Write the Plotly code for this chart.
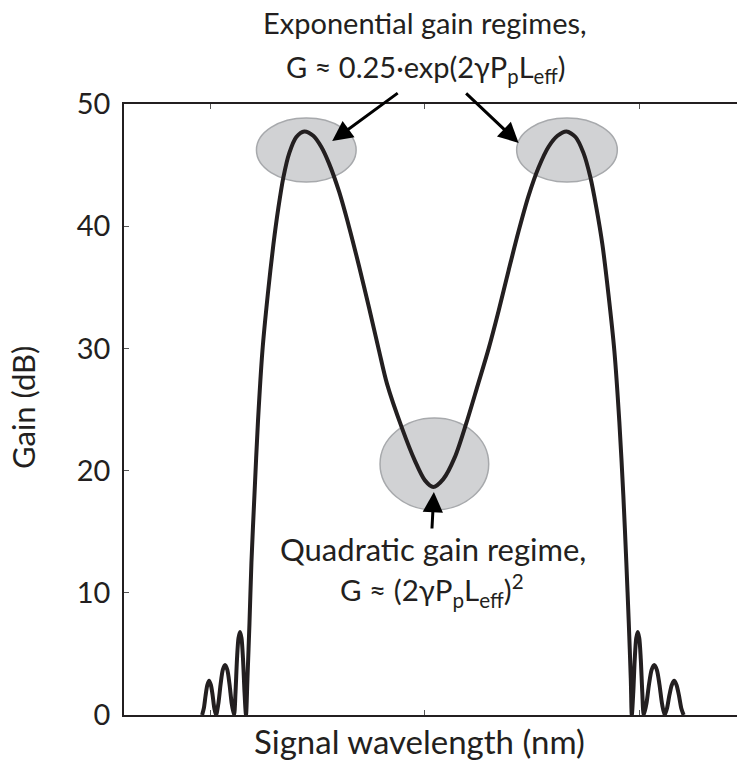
import plotly.graph_objects as go

# ---------------- data ----------------
wavelength_nm = [
    # left side lobes
    1498.02, 1498.43, 1498.84, 1499.24, 1499.65, 1500.06, 1500.47, 1500.87, 1501.28,
    1501.80, 1502.33, 1502.85, 1503.37, 1503.90, 1504.42, 1504.94, 1505.47,
    1505.82, 1506.16, 1506.51, 1506.86, 1507.21, 1507.56, 1507.91, 1508.26,
    # main gain band
    1508.60, 1509.07, 1509.53, 1510.23, 1511.05, 1512.09, 1513.37, 1514.65, 1515.81,
    1516.98, 1518.37, 1520.00, 1521.86, 1523.95, 1525.81, 1527.67, 1530.00, 1532.33,
    1534.65, 1536.98, 1539.30, 1541.16, 1544.63, 1547.67, 1550.00, 1551.95, 1554.28,
    1556.98, 1559.67, 1562.33, 1564.88, 1567.21, 1569.53, 1571.86, 1574.19, 1576.51,
    1578.84, 1580.93, 1583.02, 1585.12, 1586.98, 1588.60, 1590.00, 1591.40, 1592.79,
    1594.19, 1595.35, 1596.28, 1596.98, 1597.56, 1598.02, 1598.26,
    # right side lobes
    1598.61, 1598.95, 1599.30, 1599.65, 1600.00, 1600.35, 1600.70, 1601.05,
    1601.66, 1602.27, 1602.88, 1603.49, 1604.10, 1604.71, 1605.32, 1605.93,
    1606.48, 1607.03, 1607.59, 1608.14, 1608.69, 1609.25, 1609.80, 1610.35,
]
gain_db = [
    0, 0.56, 1.62, 2.46, 2.8, 2.46, 1.62, 0.56, 0,
    0.9, 2.5, 3.7, 4.1, 3.7, 2.5, 0.9, 0,
    1.9, 4.6, 6.3, 6.8, 6.3, 4.6, 1.9, 0,
    3.0, 7.5, 12.5, 18.0, 24.0, 29.8, 34.5, 38.5, 41.5,
    44.0, 46.0, 47.3, 47.75, 47.4, 46.5, 45.1, 42.8, 39.9,
    36.7, 33.3, 29.8, 27.1, 23.5, 20.8, 19.2, 18.66, 19.3,
    21.1, 23.9, 27.0, 30.0, 33.1, 36.4, 39.6, 42.5, 44.8,
    46.5, 47.4, 47.75, 47.3, 46.0, 44.0, 41.5, 38.5, 34.5,
    29.8, 24.0, 18.0, 12.5, 7.5, 3.0, 0,
    1.9, 4.6, 6.3, 6.8, 6.3, 4.6, 1.9, 0,
    0.9, 2.5, 3.7, 4.1, 3.7, 2.5, 0.9, 0,
    0.56, 1.62, 2.46, 2.8, 2.46, 1.62, 0.56, 0,
]
y_ticks = [0, 10, 20, 30, 40, 50]
x_ticks = [1500, 1550, 1600]

INK = "#231f20"
FONT = "Lato"

fig = go.Figure()

# highlighted regions (ellipses)
ellipses = [
    (1510.70, 43.62, 1533.95, 48.85),
    (1571.40, 43.62, 1594.88, 48.85),
    (1539.53, 16.78, 1564.88, 24.30),
]
for x0, y0, x1, y1 in ellipses:
    fig.add_shape(type="circle", xref="x", yref="y", x0=x0, y0=y0, x1=x1, y1=y1,
                  fillcolor="#d1d2d4", line=dict(color="#a7a9ac", width=1.5),
                  layer="below")

fig.add_trace(go.Scatter(
    x=wavelength_nm, y=gain_db, mode="lines",
    line=dict(color=INK, width=4, shape="spline", smoothing=0.8),
    hoverinfo="skip", showlegend=False,
))

axis_common = dict(showline=True, linecolor=INK, linewidth=1.5, mirror="ticks",
                   ticks="inside", ticklen=5, tickwidth=1, tickcolor="#555555",
                   showgrid=False, zeroline=False)

fig.update_xaxes(range=[1479.8, 1624.2], tickvals=x_ticks, showticklabels=False,
                 **axis_common)
fig.update_yaxes(range=[0, 50], tickvals=y_ticks, ticklabelstandoff=6,
                 tickfont=dict(family=FONT, size=29, color=INK), **axis_common)

# arrows
arrows = [
    (1528.37, 46.97, 67, -49),
    (1571.86, 46.81, -54, -51),
    (1552.09, 18.25, -2, 38),
]
for x, y, ax, ay in arrows:
    fig.add_annotation(x=x, y=y, ax=ax, ay=ay, xref="x", yref="y", text="",
                       showarrow=True, arrowhead=2, arrowsize=1.35, arrowwidth=3,
                       arrowcolor="#000000")


def t(size):
    return dict(family=FONT, size=size, color=INK)


fig.add_annotation(text="Exponential gain regimes,", xref="paper", yref="paper",
                   x=0.4863, y=1.134, showarrow=False, font=t(29),
                   xanchor="center", yanchor="middle", borderpad=0)
fig.add_annotation(text="G ≈ 0.25·exp(2γP<sub>p</sub>L<sub>eff</sub>)", xref="paper",
                   yref="paper", x=0.4863, y=1.0589, showarrow=False, font=t(29),
                   xanchor="center", yanchor="middle", borderpad=0)
fig.add_annotation(text="Quadratic gain regime,", xref="x", yref="y",
                   x=1551.8, y=13.6, showarrow=False, font=t(31),
                   xanchor="center", yanchor="middle")
fig.add_annotation(text="G ≈ (2γP<sub>p</sub>L<sub>eff</sub>)<sup>2</sup>", xref="x",
                   yref="y", x=1551.6, y=10.15, showarrow=False, font=t(29.5),
                   xanchor="center", yanchor="middle")
fig.add_annotation(text="Signal wavelength (nm)", xref="paper", yref="paper",
                   x=0.4767, y=-0.042, showarrow=False, font=t(33),
                   xanchor="center", yanchor="middle", borderpad=0)
fig.add_annotation(text="Gain (dB)", xref="paper", yref="paper",
                   x=-0.163, y=0.5025, showarrow=False, font=t(31), textangle=-90,
                   xanchor="center", yanchor="middle", borderpad=0)

# page body adds an 8 px margin, so the figure is 8 px smaller on each axis
fig.update_layout(width=737, height=757, margin=dict(l=116, r=0, t=96, b=50),
                  plot_bgcolor="white", paper_bgcolor="white",
                  font=dict(family=FONT, color=INK))

fig.write_html("out.html")
